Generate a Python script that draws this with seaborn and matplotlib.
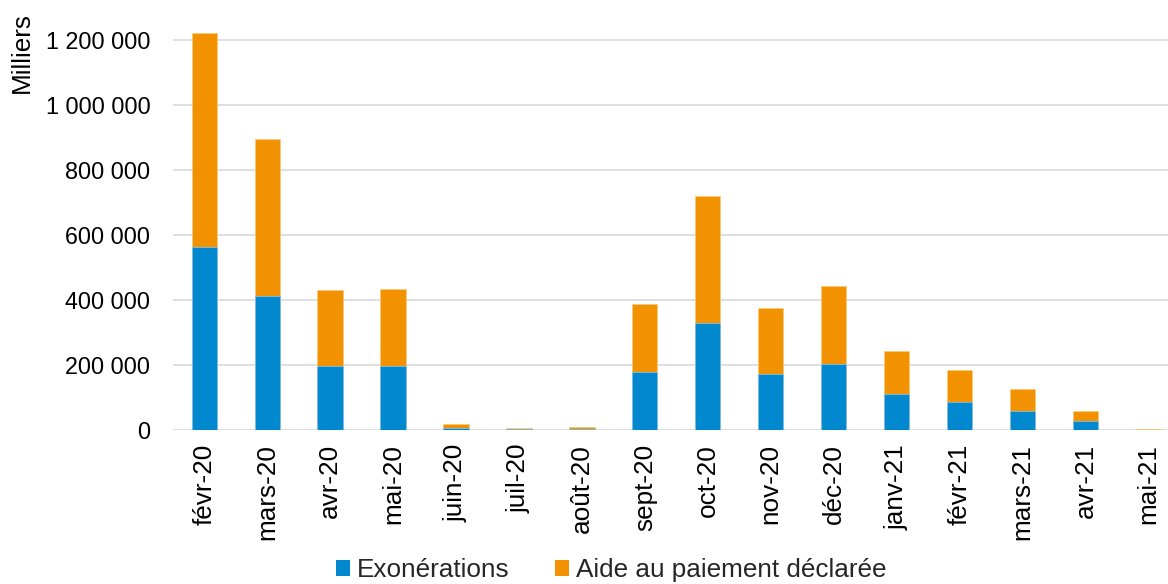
import matplotlib
matplotlib.use("Agg")
import matplotlib.pyplot as plt
from matplotlib.ticker import FuncFormatter, MultipleLocator
from matplotlib.patches import Patch
import seaborn as sns
import pandas as pd

months = ["févr-20", "mars-20", "avr-20", "mai-20", "juin-20", "juil-20", "août-20",
          "sept-20", "oct-20", "nov-20", "déc-20", "janv-21", "févr-21", "mars-21",
          "avr-21", "mai-21"]
exonerations = [562000, 411500, 197000, 197000, 7500, 3000, 3500,
                177500, 329500, 172300, 203100, 110800, 85500, 57500,
                26700, 1500]
aide_paiement = [661000, 485000, 234000, 237000, 10000, 3000, 4500,
                 209500, 389500, 202200, 241200, 132200, 100000, 67500,
                 31800, 3000]

series_names = ["Exonérations", "Aide au paiement déclarée"]
colors = ["#0288CF", "#F39200"]

df = pd.DataFrame({"mois": months, "exo": exonerations, "aide": aide_paiement})
df["total"] = df["exo"] + df["aide"]

sns.set_theme(style="white")
plt.rcParams["font.family"] = ["Liberation Sans", "DejaVu Sans"]

W, H = 1168, 584
fig = plt.figure(figsize=(W / 100, H / 100), dpi=100)
left_px, right_px, bottom_px, top_px = 172.7, 1180.0, 430.0, 20.0
ax = fig.add_axes([left_px / W, 1 - bottom_px / H,
                   (right_px - left_px) / W, (bottom_px - top_px) / H])

sns.barplot(data=df, x="mois", y="total", order=months, color=colors[1],
            width=0.4, ax=ax, saturation=1, edgecolor="#FBC878", linewidth=0.6)
sns.barplot(data=df, x="mois", y="exo", order=months, color=colors[0],
            width=0.4, ax=ax, saturation=1, edgecolor="#7FC0E8", linewidth=0.6)

ax.set_xlim(-0.5, 15.5)
ax.set_ylim(0, 410 * 3077)
ax.yaxis.set_major_locator(MultipleLocator(200000))
ax.yaxis.set_major_formatter(FuncFormatter(lambda v, p: f"{int(round(v)):,}".replace(",", " ")))
ax.grid(axis="y", color="#D9D9D9", linewidth=1.2)
ax.set_axisbelow(True)
for s in ax.spines.values():
    s.set_visible(False)
ax.tick_params(axis="y", length=0, pad=16, labelsize=16.8, labelcolor="#000000")
ax.tick_params(axis="x", length=0, pad=10, labelsize=18.8, labelcolor="#000000")
plt.setp(ax.get_xticklabels(), rotation=90, va="top", ha="center")
ax.set_xlabel("")
ax.set_ylabel("")

fig.text(22 / W, 1 - 12 / H, "Milliers", rotation=90, ha="center", va="top",
         fontsize=18.8, color="#000000")

handles = [Patch(facecolor=c, edgecolor="none") for c in colors]
fig.legend(handles, series_names, loc="center", bbox_to_anchor=(611 / W, 1 - 570 / H),
           ncol=2, frameon=False, fontsize=18.8, handlelength=0.55, handleheight=0.55,
           handletextpad=0.25, columnspacing=1.75, borderaxespad=0, borderpad=0)

fig.savefig("out.png", dpi=100, facecolor="white")
